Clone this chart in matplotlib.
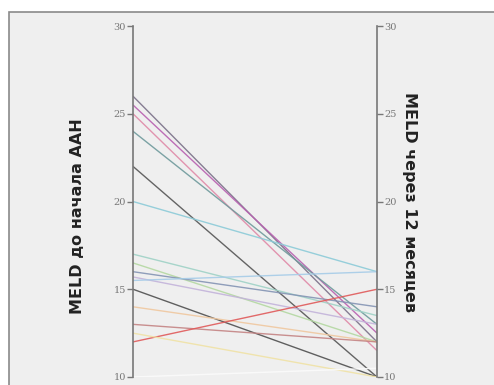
import matplotlib
matplotlib.use("Agg")
import matplotlib.pyplot as plt
from matplotlib.patches import Rectangle

# MELD score per patient: before treatment and after 12 months
meld_before = [26, 25.5, 25, 24, 22, 20, 17, 16.5, 16, 15.7, 15.5, 15, 14, 13, 12, 12.5, 10]
meld_after = [12, 12.5, 11.5, 13, 10, 16, 13.5, 12, 14, 13, 16, 10, 12, 12, 15, 10, 10.5]
line_colors = ["#7a7088", "#b860b0", "#e08aa8", "#6f9a9c", "#555555",
               "#8ccbd8", "#9fd2c6", "#b4d8a2", "#8494b4", "#c3b3da",
               "#a6cce8", "#4f4f4f", "#f0c8a0", "#c48484", "#e05a5a",
               "#f0e2a6", "#fbfbfb"]
y_ticks = [10, 15, 20, 25, 30]

W, H = 494, 385
fig = plt.figure(figsize=(W / 100, H / 100), dpi=100)
fig.patch.set_facecolor("white")

# gray panel with border
fig.patches.append(Rectangle((9 / W, -0.01), 1.0, (H - 12) / H + 0.01,
                             transform=fig.transFigure, facecolor="#efefef",
                             edgecolor="#8a8a8a", linewidth=1.2, zorder=-5))

ax = fig.add_axes([133 / W, 8 / H, (377 - 133) / W, (377 - 26) / H])
ax.set_zorder(5)
ax.patch.set_alpha(0)
ax.set_xlim(0, 1)
ax.set_ylim(10, 30)

for b, a, c in zip(meld_before, meld_after, line_colors):
    ax.plot([0, 1], [b, a], color=c, linewidth=1.0, alpha=0.9, solid_capstyle="butt")

for side in ["top", "bottom"]:
    ax.spines[side].set_visible(False)
for side in ["left", "right"]:
    ax.spines[side].set_color("#777777")
    ax.spines[side].set_linewidth(1.2)

ax.set_xticks([])
ax.set_yticks(y_ticks)
ax.tick_params(axis="y", left=True, right=True, labelleft=True, labelright=True,
               length=4, width=1, color="#777777", labelcolor="#777777",
               labelsize=7, pad=1, direction="out")
for lab in ax.get_yticklabels():
    lab.set_fontfamily("DejaVu Serif")

fig.text(77 / W, 1 - 216 / H, "MELD до начала ААН", rotation=90, fontsize=11.5,
         fontweight="bold", ha="center", va="center", color="#222222")
fig.text(410 / W, 1 - 202 / H, "MELD через 12 месяцев", rotation=-90, fontsize=11.5,
         fontweight="bold", ha="center", va="center", color="#222222")

fig.savefig("out.png", dpi=100)
